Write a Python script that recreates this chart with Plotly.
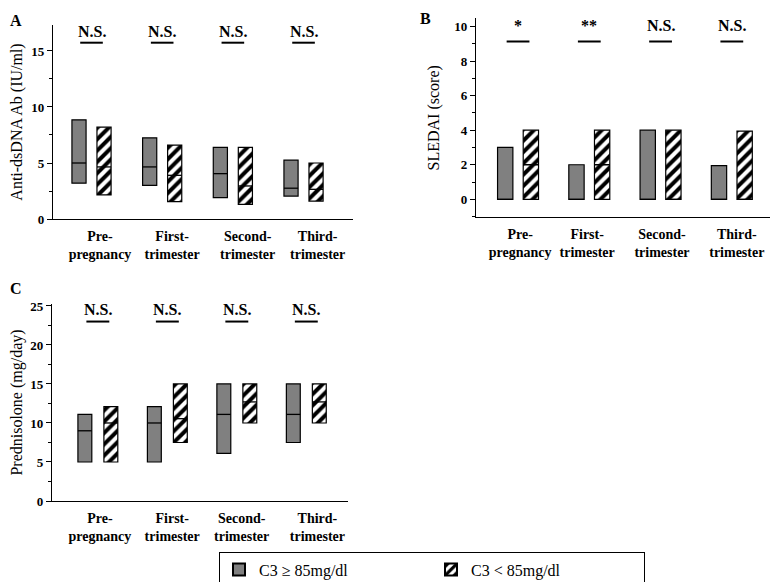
import plotly.graph_objects as go

# ---------------- data ----------------
categories = ["Pre-<br>pregnancy", "First-<br>trimester", "Second-<br>trimester", "Third-<br>trimester"]
legend_names = ["C3 ≥ 85mg/dl", "C3 < 85mg/dl"]

# Panel A: Anti-dsDNA Ab (IU/ml)
A_gray_low = [3.2, 3.0, 1.9, 2.05]
A_gray_high = [8.85, 7.25, 6.4, 5.25]
A_gray_med = [5.0, 4.65, 4.05, 2.75]
A_hatch_low = [2.15, 1.55, 1.3, 1.6]
A_hatch_high = [8.2, 6.6, 6.4, 5.0]
A_hatch_med = [4.65, 3.9, 2.95, 2.65]
A_sig = ["N.S.", "N.S.", "N.S.", "N.S."]

# Panel B: SLEDAI (score)
B_gray_low = [0, 0, 0, 0]
B_gray_high = [3, 2, 4, 1.95]
B_gray_med = [0, 0, 0, 0]
B_hatch_low = [0, 0, 0, 0]
B_hatch_high = [4, 4, 4, 3.95]
B_hatch_med = [2, 2, 0, 0]
B_sig = ["*", "**", "N.S.", "N.S."]

# Panel C: Prednisolone (mg/day)
C_gray_low = [5, 5, 6.1, 7.5]
C_gray_high = [11.1, 12.1, 15, 15]
C_gray_med = [9, 10, 11.1, 11.1]
C_hatch_low = [5, 7.5, 10, 10]
C_hatch_high = [12.1, 15, 15, 15]
C_hatch_med = [10, 10.55, 12.7, 12.7]
C_sig = ["N.S.", "N.S.", "N.S.", "N.S."]

# ---------------- layout helpers ----------------
OFF = 8                      # page body margin
W, H = 778 - OFF, 582 - OFF  # figure size that fits the window
FONT = "Times New Roman, Liberation Serif, DejaVu Serif, serif"
GRAY = "#808080"


def px2x(p):
    return (p - OFF) / W


def px2y(p):
    return 1 - (p - OFF) / H


def xdom(p0, p1):
    return [px2x(p0), px2x(p1)]


def ydom(top, bottom):
    return [px2y(bottom), px2y(top)]


panels = [
    dict(ax="", low=(A_gray_low, A_hatch_low), high=(A_gray_high, A_hatch_high),
         med=(A_gray_med, A_hatch_med), sig=A_sig, off=0.177, width=0.2,
         xd=xdom(53, 353), yd=ydom(25, 219), xr=[-0.545, 3.70], yr=[0, 17.32],
         dtick=5, minor=2.5, title="Anti-dsDNA Ab (IU/ml)", standoff=8,
         tickpos=[0.12, 1.14, 2.21, 3.2], sig_text=16.75, sig_line=15.74, sig_half=0.16),
    dict(ax="2", low=(B_gray_low, B_hatch_low), high=(B_gray_high, B_hatch_high),
         med=(B_gray_med, B_hatch_med), sig=B_sig, off=0.18, width=0.215,
         xd=xdom(476, 776), yd=ydom(18.3, 217.3), xr=[-0.59, 3.62], yr=[-1.04, 10.47],
         dtick=2, minor=1, title="SLEDAI (score)", standoff=10,
         tickpos=[0.03, 0.97, 2.02, 3.07], sig_text=10.06, sig_line=9.13, sig_half=0.16),
    dict(ax="3", low=(C_gray_low, C_hatch_low), high=(C_gray_high, C_hatch_high),
         med=(C_gray_med, C_hatch_med), sig=C_sig, off=0.187, width=0.2,
         xd=xdom(52, 348), yd=ydom(304, 501), xr=[-0.66, 3.6], yr=[0, 25.25],
         dtick=5, minor=2.5, title="Prednisolone (mg/day)", standoff=12,
         tickpos=[0.03, 1.07, 2.07, 3.16], sig_text=24.6, sig_line=23.0, sig_half=0.165),
]

fig = go.Figure()
shapes = []
annotations = []

for pi, p in enumerate(panels):
    xa, ya = "x" + p["ax"], "y" + p["ax"]
    for gi in range(2):
        sign = -1 if gi == 0 else 1
        xs = [i + sign * p["off"] for i in range(len(categories))]
        lows, highs, meds = p["low"][gi], p["high"][gi], p["med"][gi]
        marker = dict(color=GRAY, line=dict(color="black", width=1.2))
        if gi == 1:
            marker = dict(color="white", line=dict(color="black", width=1.2),
                          pattern=dict(shape="/", fgcolor="black", bgcolor="white",
                                       size=8, solidity=0.5, fgopacity=1))
        fig.add_trace(go.Bar(
            x=xs, y=[h - l for h, l in zip(highs, lows)], base=lows,
            width=p["width"], marker=marker, name=legend_names[gi],
            showlegend=(pi == 0), legendgroup=str(gi),
            xaxis=xa, yaxis=ya, hoverinfo="skip"))
        # median lines
        mx, my = [], []
        for x, m in zip(xs, meds):
            mx += [x - p["width"] / 2, x + p["width"] / 2, None]
            my += [m, m, None]
        fig.add_trace(go.Scatter(x=mx, y=my, mode="lines",
                                 line=dict(color="black", width=1.3),
                                 showlegend=False, xaxis=xa, yaxis=ya, hoverinfo="skip"))
    # significance markers
    for i, s in enumerate(p["sig"]):
        annotations.append(dict(x=i, y=p["sig_text"], xref=xa, yref=ya, text=s,
                                showarrow=False, yanchor="middle",
                                font=dict(family=FONT, size=16, color="black", weight="bold")))
        shapes.append(dict(type="line", xref=xa, yref=ya,
                           x0=i - p["sig_half"], x1=i + p["sig_half"],
                           y0=p["sig_line"], y1=p["sig_line"],
                           line=dict(color="black", width=2)))

    axis_common = dict(showline=True, linecolor="black", linewidth=1.3, showgrid=False,
                       zeroline=False, automargin=False)
    fig.layout["xaxis" + p["ax"]] = dict(
        axis_common, domain=p["xd"], range=p["xr"], anchor=ya,
        tickmode="array", tickvals=p["tickpos"], ticktext=categories, ticks="",
        ticklabelstandoff=4,
        tickfont=dict(family=FONT, size=14, color="black", weight="bold"))
    fig.layout["yaxis" + p["ax"]] = dict(
        axis_common, domain=p["yd"], range=p["yr"], anchor=xa,
        tickmode="linear", tick0=0, dtick=p["dtick"], ticks="outside", ticklen=5,
        tickcolor="black", tickwidth=1.2,
        minor=dict(ticks="outside", ticklen=3, dtick=p["minor"], tick0=0,
                   tickcolor="black", tickwidth=1),
        tickfont=dict(family=FONT, size=13, color="black", weight="bold"),
        title=dict(text=p["title"], font=dict(family=FONT, size=16, color="black"),
                   standoff=p["standoff"]))

# panel letters
for letter, px, py, ya_ in [("A", 8, 20, "middle"), ("B", 418, 8, "top"), ("C", 8, 288, "middle")]:
    annotations.append(dict(x=px2x(px), y=px2y(py), xref="paper", yref="paper",
                            text=letter, showarrow=False, xanchor="left", yanchor=ya_,
                            font=dict(family=FONT, size=16, color="black", weight="bold")))

fig.update_layout(
    width=W, height=H, margin=dict(l=0, r=0, t=0, b=0, autoexpand=False),
    paper_bgcolor="white", plot_bgcolor="white",
    barmode="overlay",
    shapes=shapes, annotations=annotations,
    legend=dict(orientation="h", x=px2x(219), xanchor="left", y=px2y(570), yanchor="middle",
                bordercolor="black", borderwidth=1.2, bgcolor="white",
                font=dict(family=FONT, size=16, color="black"),
                entrywidth=167, entrywidthmode="pixels", itemsizing="constant"),
    font=dict(family=FONT),
)

fig.write_html("out.html")
